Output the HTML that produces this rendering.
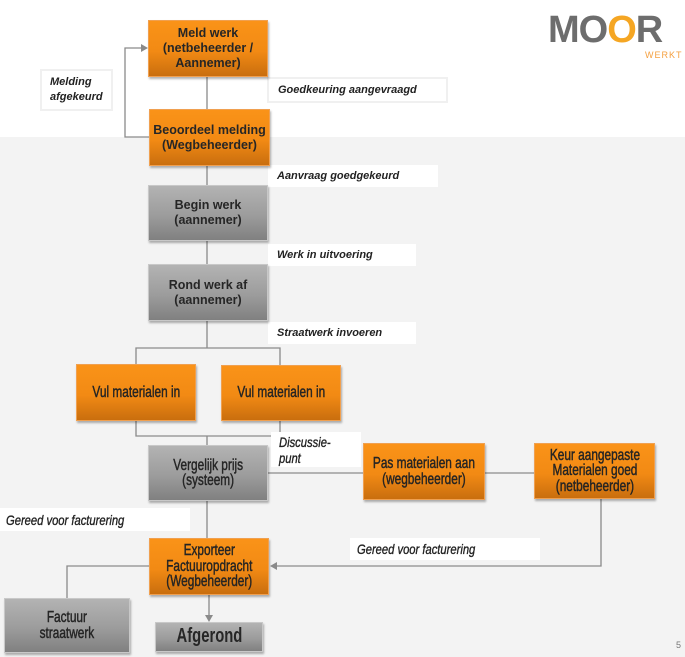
<!DOCTYPE html>
<html><head><meta charset="utf-8"><style>
*{margin:0;padding:0;box-sizing:border-box}
body{width:685px;height:657px;position:relative;overflow:hidden;background:#fff;font-family:"Liberation Sans",sans-serif}
.bg{position:absolute;left:0;top:137px;width:685px;height:520px;background:#f3f3f3}
.b{position:absolute;display:flex;align-items:center;justify-content:center;text-align:center;font-weight:bold;font-size:12.5px;line-height:15px;color:#262626;box-shadow:1px 2px 2px rgba(0,0,0,.3);white-space:nowrap}
.o{background:linear-gradient(#fa9318,#f28a14 55%,#c96e0e);border:1px solid #f0a050}
.g{background:linear-gradient(#b3b3b3,#9c9c9c 55%,#808080);border:1px solid #c8c8c8}
.n span{display:inline-block;transform:scaleX(.74);font-size:16px;font-weight:normal;line-height:15.5px;-webkit-text-stroke:.45px #222}
.l{position:absolute;background:#fff;font-style:italic;font-weight:bold;font-size:11px;color:#222;padding-left:9px;display:flex;align-items:center}
.l span{display:inline-block;transform:scaleX(.8);transform-origin:left center;font-size:14px;font-weight:normal;-webkit-text-stroke:.35px #222;white-space:nowrap}
</style></head><body>
<div class="bg"></div>
<svg width="685" height="657" style="position:absolute;left:0;top:0">
<g stroke="#8a8a8a" stroke-width="1.3" fill="none">
<path d="M207 77V109M207 166V185M207 241V264M207 321V348M136 364V348H280V365M136 421V436H280V421M207 436V445M207 501V538M268 473H363M485 473H534M601 499V566H276M149 566H67V598M209 595V616M149 137H125V48H142"/>
</g>
<g fill="#8a8a8a"><path d="M148 48l-7-4v8z"/><path d="M270 566l7-4v8z"/><path d="M209 622l-4-7h8z"/></g>
</svg>
<div class="l" style="left:40px;top:69px;width:73px;height:42px;border:2px solid #f0f0f0;padding-left:8px;line-height:15px">Melding<br>afgekeurd</div>
<div class="l" style="left:267px;top:77px;width:181px;height:26px;border:2px solid #f0f0f0">Goedkeuring aangevraagd</div>
<div class="l" style="left:268px;top:165px;width:170px;height:22px">Aanvraag goedgekeurd</div>
<div class="l" style="left:268px;top:244px;width:148px;height:22px">Werk in uitvoering</div>
<div class="l" style="left:268px;top:322px;width:148px;height:22px">Straatwerk invoeren</div>
<div class="l" style="left:271px;top:432px;width:90px;height:35px;line-height:15px;padding-left:8px"><span style="line-height:16px">Discussie-<br>punt</span></div>
<div class="l" style="left:0;top:508px;width:190px;height:23px;padding-left:6px"><span>Gereed voor facturering</span></div>
<div class="l" style="left:350px;top:538px;width:190px;height:22px;padding-left:7px"><span>Gereed voor facturering</span></div>

<div class="b o" style="left:148px;top:20px;width:120px;height:57px">Meld werk<br>(netbeheerder /<br>Aannemer)</div>
<div class="b o" style="left:149px;top:109px;width:121px;height:57px">Beoordeel melding<br>(Wegbeheerder)</div>
<div class="b g" style="left:148px;top:185px;width:120px;height:56px">Begin werk<br>(aannemer)</div>
<div class="b g" style="left:148px;top:264px;width:120px;height:57px">Rond werk af<br>(aannemer)</div>
<div class="b o n" style="left:76px;top:364px;width:120px;height:57px"><span>Vul materialen in</span></div>
<div class="b o n" style="left:221px;top:365px;width:120px;height:56px"><span>Vul materialen in</span></div>
<div class="b g n" style="left:148px;top:445px;width:120px;height:56px"><span>Vergelijk prijs<br>(systeem)</span></div>
<div class="b o n" style="left:363px;top:443px;width:122px;height:57px"><span>Pas materialen aan<br>(wegbeheerder)</span></div>
<div class="b o n" style="left:534px;top:443px;width:121px;height:56px"><span>Keur aangepaste<br>Materialen goed<br>(netbeheerder)</span></div>
<div class="b o n" style="left:149px;top:538px;width:120px;height:57px"><span>Exporteer<br>Factuuropdracht<br>(Wegbeheerder)</span></div>
<div class="b g n" style="left:4px;top:598px;width:126px;height:55px"><span>Factuur<br>straatwerk</span></div>
<div class="b g n" style="left:155px;top:622px;width:108px;height:30px"><span style="font-size:20px;font-weight:bold;-webkit-text-stroke:0">Afgerond</span></div>

<div style="position:absolute;left:548px;top:10px;font-size:38px;font-weight:bold;color:#6d6d6d;letter-spacing:-1px;line-height:40px">MO<span style="color:#f5a623">O</span>R</div>
<div style="position:absolute;left:645px;top:50px;font-size:9px;color:#f5a040;letter-spacing:1px">WERKT</div>
<div style="position:absolute;left:676px;top:640px;font-size:9px;color:#777">5</div>
</body></html>
